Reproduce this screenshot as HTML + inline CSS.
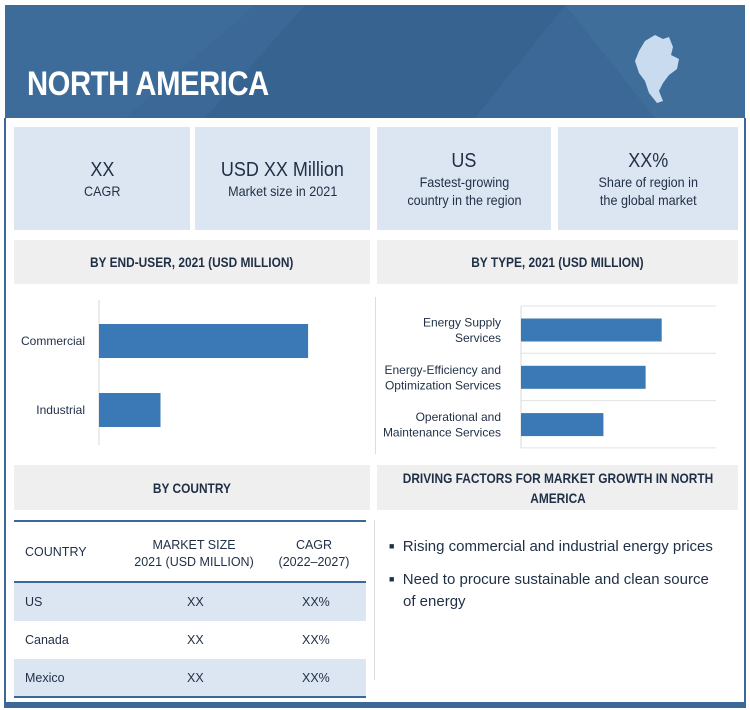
<!DOCTYPE html>
<html><head><meta charset="utf-8">
<style>
*{margin:0;padding:0;box-sizing:border-box}
body{width:750px;height:710px;background:#fff;position:relative;overflow:hidden;font-family:"Liberation Sans Narrow","Liberation Sans",sans-serif;color:#1f2f45}
.abs{position:absolute}
.hdr{left:5px;top:5px;width:740px;height:113px;background:#3b6896;overflow:hidden}
.frame{left:4px;top:118px;width:742px;height:590px;border-left:2px solid #3b6896;border-right:2px solid #3b6896}
.bottombar{left:4px;top:702px;width:742px;height:6px;background:#3b6896}
.stat{background:#dce6f2;top:127px;height:103px;display:flex;flex-direction:column;align-items:center;justify-content:center;text-align:center;font-size:14px;line-height:18px}
.stat .big{font-size:20px;line-height:24px}
.stat>div{transform:scaleX(0.9)}
.sec{background:#efefef;display:flex;align-items:center;justify-content:center;text-align:center;font-size:14px;font-weight:bold;line-height:20px}
.sec>span{display:inline-block;transform:scaleX(0.85)}
.row{left:14px;width:352px;height:38px;font-size:12.5px}
.row span{position:absolute;top:12px}
</style></head><body>
<div class="abs hdr">
<svg width="740" height="113" class="abs" style="left:0;top:0">
<polygon points="0,0 250,0 120,113 0,113" fill="#3f6e9c" opacity="0.6"/>
<polygon points="300,0 560,0 470,113 200,113" fill="#35618e" opacity="0.6"/>
<polygon points="560,0 740,0 740,113 650,113" fill="#44739f" opacity="0.5"/>
</svg>
<div class="abs" style="left:22px;top:60px;font-size:34px;font-weight:bold;color:#fff;letter-spacing:-0.5px;transform:scaleX(0.86);transform-origin:0 0">NORTH AMERICA</div>
<svg class="abs" width="50" height="75" style="left:628px;top:28px"><path d="M12,8 L22,2 L30,6 L36,4 L40,14 L38,22 L46,26 L44,36 L36,42 L30,50 L26,58 L30,68 L24,70 L16,60 L12,48 L6,40 L2,28 L6,18 Z" fill="#c9dcef"/></svg>
</div>
<div class="abs frame"></div>
<div class="abs bottombar"></div>

<div class="abs stat" style="left:14px;width:176px"><div class="big">XX</div><div>CAGR</div></div>
<div class="abs stat" style="left:195px;width:175px"><div class="big">USD XX Million</div><div>Market size in 2021</div></div>
<div class="abs stat" style="left:377px;width:174px"><div class="big">US</div><div>Fastest-growing<br>country in the region</div></div>
<div class="abs stat" style="left:558px;width:180px"><div class="big">XX%</div><div>Share of region in<br>the global market</div></div>

<div class="abs sec" style="left:14px;top:240px;width:356px;height:44px"><span>BY END-USER, 2021 (USD MILLION)</span></div>
<div class="abs sec" style="left:377px;top:240px;width:361px;height:44px"><span>BY TYPE, 2021 (USD MILLION)</span></div>

<div class="abs" style="left:375px;top:297px;width:1px;height:157px;background:#ddd"></div>
<svg class="abs" id="c1" width="370" height="175" style="left:0;top:285px"></svg>
<svg class="abs" id="c2" width="370" height="175" style="left:375px;top:285px"></svg>

<div class="abs sec" style="left:14px;top:465px;width:356px;height:45px"><span>BY COUNTRY</span></div>
<div class="abs sec" style="left:377px;top:465px;width:361px;height:45px"><span style="width:400px;flex-shrink:0">DRIVING FACTORS FOR MARKET GROWTH IN NORTH<br>AMERICA</span></div>

<div class="abs" style="left:14px;top:520px;width:352px;height:2px;background:#3b6896"></div>
<div class="abs" style="left:14px;top:522px;width:352px;height:60px;font-size:12.5px">
<span class="abs" style="left:11px;top:23px">COUNTRY</span>
<span class="abs" style="left:110px;top:15px;width:140px;text-align:center;line-height:17px">MARKET SIZE<br>2021 (USD MILLION)</span>
<span class="abs" style="left:260px;top:15px;width:80px;text-align:center;line-height:17px">CAGR<br>(2022–2027)</span>
</div>
<div class="abs" style="left:14px;top:581px;width:352px;height:2px;background:#3b6896"></div>
<div class="abs row" style="top:583px;background:#dce6f2"><span style="left:11px">US</span><span style="left:173px">XX</span><span style="left:288px">XX%</span></div>
<div class="abs row" style="top:621px"><span style="left:11px">Canada</span><span style="left:173px">XX</span><span style="left:288px">XX%</span></div>
<div class="abs row" style="top:659px;background:#dce6f2"><span style="left:11px">Mexico</span><span style="left:173px">XX</span><span style="left:288px">XX%</span></div>
<div class="abs" style="left:14px;top:696px;width:352px;height:2px;background:#3b6896"></div>
<div class="abs" style="left:374px;top:520px;width:1px;height:160px;background:#ddd"></div>

<div class="abs" style="left:389px;top:535px;font-size:15px;line-height:22px"><span style="font-size:9px;vertical-align:2px">■</span>&nbsp; Rising commercial and industrial energy prices</div>
<div class="abs" style="left:389px;top:568px;width:340px;font-size:15px;line-height:22px"><span style="font-size:9px;vertical-align:2px">■</span>&nbsp; Need to procure sustainable and clean source<br><span style="padding-left:14px">of energy</span></div>

<script>
const endUserCats=["Commercial","Industrial"];
const endUserVals=[85,25];
const typeCats=[["Energy Supply","Services"],["Energy-Efficiency and","Optimization Services"],["Operational and","Maintenance Services"]];
const typeVals=[7.0,6.2,4.1];
const NS="http://www.w3.org/2000/svg";
function mk(svg,t,a){const e=document.createElementNS(NS,t);for(const k in a)e.setAttribute(k,a[k]);svg.appendChild(e);return e;}
const s1=document.getElementById('c1');
const x1=v=>99+v*2.46;
const band1=i=>39+i*69;
let ax=mk(s1,'line',{x1:99,x2:99,y1:15,y2:160,stroke:'#d9d9d9'});


endUserVals.forEach((v,i)=>{
 const r=mk(s1,'rect',{x:99,y:band1(i),width:x1(v)-99,height:34,fill:'#3a78b6'});
 
 
 const t=mk(s1,'text',{x:85,y:band1(i)+21,'text-anchor':'end','font-size':12,fill:'#1f2f45','font-family':'Liberation Sans Narrow, Liberation Sans, sans-serif'});
 t.textContent=endUserCats[i];
 
 
});
const s2=document.getElementById('c2');
const x2=v=>146+v*20.1;
const band2=i=>21+i*47.3;
for(let i=0;i<=3;i++){const g=mk(s2,'line',{x1:146,x2:341,y1:band2(i),y2:band2(i),stroke:'#e3e3e3'});
 
 }
let ax2=mk(s2,'line',{x1:146,x2:146,y1:21,y2:163,stroke:'#d9d9d9'});


typeVals.forEach((v,i)=>{
 const y=band2(i)+12.5;
 const r=mk(s2,'rect',{x:146,y:y,width:x2(v)-146,height:23,fill:'#3a78b6'});
 
 
 typeCats[i].forEach((ln,j)=>{
  const t=mk(s2,'text',{x:126,y:y+8+j*15.5,'text-anchor':'end','font-size':12,fill:'#1f2f45','font-family':'Liberation Sans Narrow, Liberation Sans, sans-serif'});
  t.textContent=ln;
  
  
 });
});
</script>
</body></html>
